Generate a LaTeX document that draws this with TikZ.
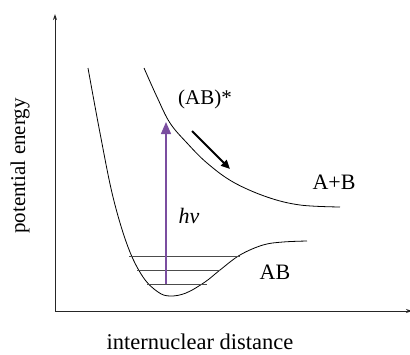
\documentclass[tikz,border=0pt]{standalone}
\usepackage{fontspec}
\setmainfont{Liberation Serif}
\usetikzlibrary{arrows.meta}
\definecolor{hvpurple}{HTML}{7B4EA0}
\begin{document}
\begin{tikzpicture}[x=1pt,y=-1pt,
  curve/.style={line width=0.8pt,black},
  level/.style={line width=0.9pt,black!70},
  axis/.style={line width=1pt,black!85,-{Stealth[length=6pt,width=4pt]}},
  lbl/.style={font=\fontsize{22}{26}\selectfont,inner sep=0pt}]
\useasboundingbox (0,0) rectangle (410,354);
\coordinate (O) at (55,311);
\coordinate (ytip) at (55,14);
\coordinate (xtip) at (412,311);
\draw[axis] (O) -- (ytip);
\draw[axis] (O) -- (xtip);
% ground state curve
\draw[curve] plot[smooth,tension=0.6] coordinates {(88,68) (100,133) (113,197) (128,247) (143,277) (158,292) (170,296) (186,293) (205,282) (220,270) (240,255) (263,245) (283,242) (307,241)};
% excited state curve
\draw[curve] plot[smooth,tension=0.6] coordinates {(144,68) (157,97) (170,123) (187,143) (207,163) (233,182) (267,197) (300,205) (340,207)};
% vibrational levels
\coordinate (l1a) at (129,256); \coordinate (l1b) at (240,256);
\coordinate (l2a) at (137,270); \coordinate (l2b) at (220,270);
\coordinate (l3a) at (147,284); \coordinate (l3b) at (207,284);
\draw[level] (l1a) -- (l1b);
\draw[level] (l2a) -- (l2b);
\draw[level] (l3a) -- (l3b);
% photon arrow
\coordinate (hvs) at (166,284);
\coordinate (hve) at (166,122);
\draw[hvpurple,line width=1.4pt,-{Triangle[length=12pt,width=10pt]}] (hvs) -- (hve);
% dissociation arrow
\coordinate (das) at (192,131);
\coordinate (dae) at (230,169);
\draw[black,line width=2pt,-{Triangle[length=9pt,width=8pt]}] (das) -- (dae);
% labels
\node[lbl,font=\fontsize{21}{25}\selectfont] (ABstar) at (205,99) {(AB)*};
\node[lbl] (AplusB) at (334,182) {A+B};
\node[lbl] (hv) at (189,216) {\textit{hν}};
\node[lbl] (AB) at (275,272) {AB};
\node[lbl,rotate=90,font=\fontsize{21}{25}\selectfont] (pe) at (20,166) {potential energy};
\node[lbl,font=\fontsize{22.5}{26}\selectfont] (ind) at (200,342) {internuclear distance};
\end{tikzpicture}
\end{document}
